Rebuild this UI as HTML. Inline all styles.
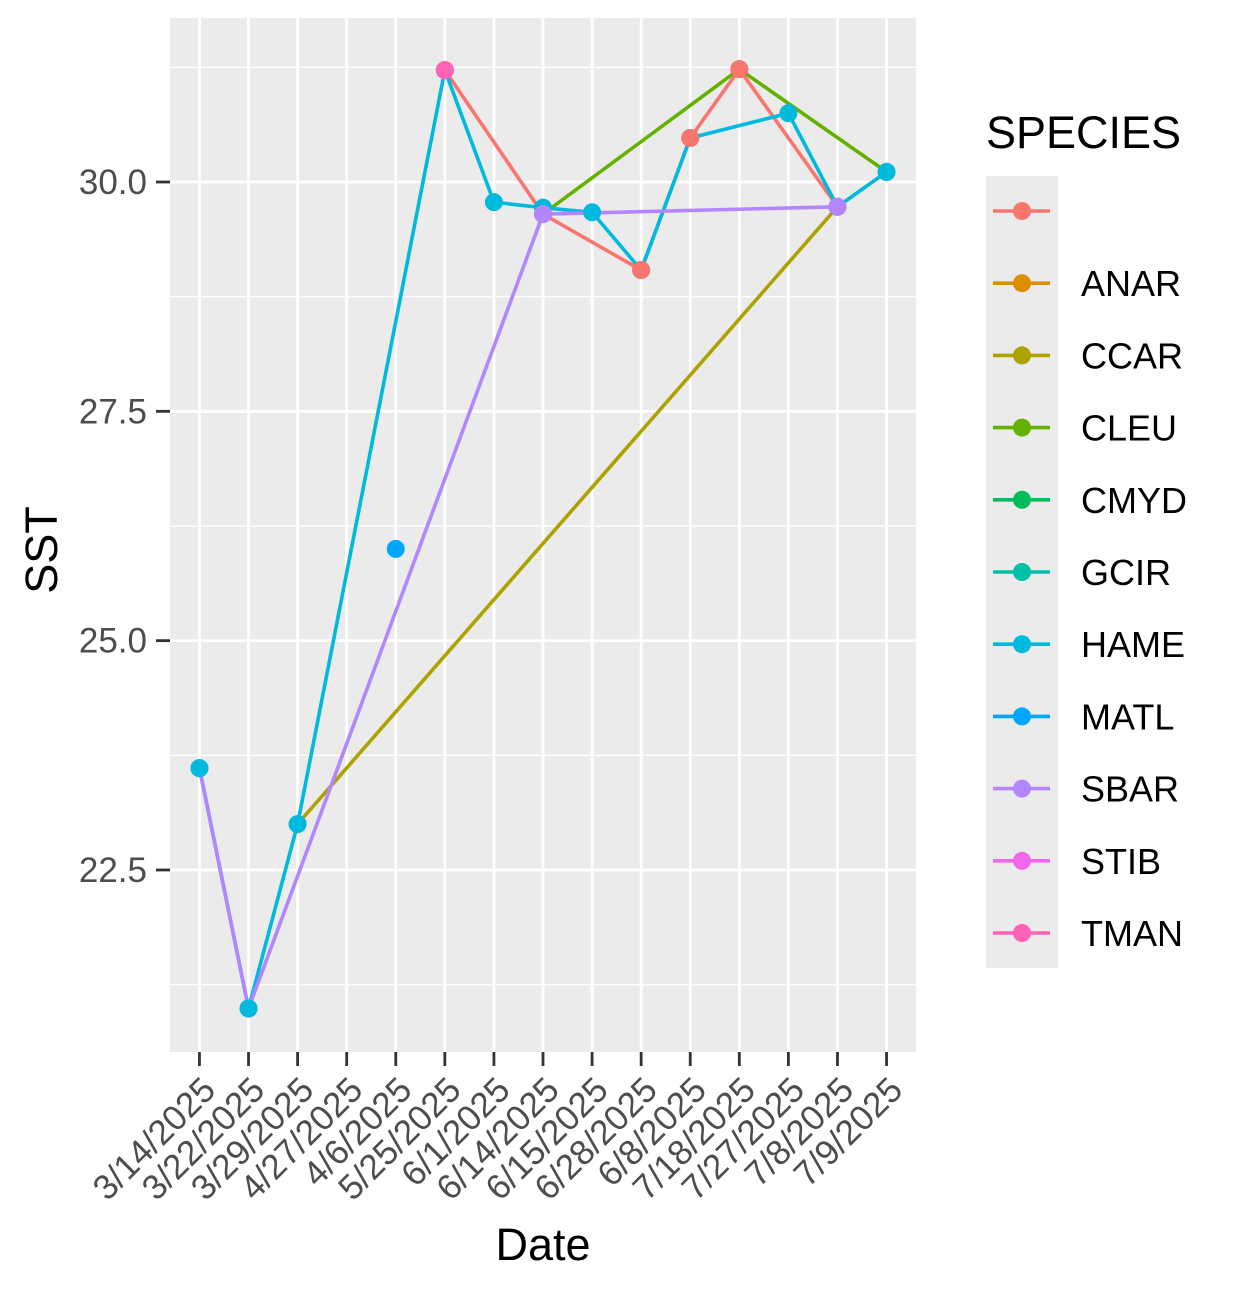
<!DOCTYPE html>
<html><head><meta charset="utf-8"><style>
body{margin:0;background:#fff;}
svg{display:block;font-family:"Liberation Sans",sans-serif;}
</style></head><body>
<svg id="chart" width="1234" height="1293" viewBox="0 0 1234 1293" xmlns="http://www.w3.org/2000/svg">
<rect x="170" y="18" width="746" height="1034" fill="#ebebeb"/>
<g id="grid"></g>
<g id="lines"></g>
<g id="points"></g>
<g id="axes"></g>
<text transform="translate(57,550) rotate(-90)" text-anchor="middle" font-size="45">SST</text>
<text x="543" y="1260" text-anchor="middle" font-size="45">Date</text>
<g id="legend"></g>
</svg>
<script>
const categories=["3/14/2025","3/22/2025","3/29/2025","4/27/2025","4/6/2025","5/25/2025","6/1/2025","6/14/2025","6/15/2025","6/28/2025","6/8/2025","7/18/2025","7/27/2025","7/8/2025","7/9/2025"];
const yTicks=[22.5,25.0,27.5,30.0];
const yTickLabels=["22.5","25.0","27.5","30.0"];
const species=["","ANAR","CCAR","CLEU","CMYD","GCIR","HAME","MATL","SBAR","STIB","TMAN"];
const colors=["#F8766D","#DB8E00","#AEA200","#64B200","#00BD5C","#00C1A7","#00BADE","#00A6FF","#B385FF","#EF67EB","#FF63B6"];
const blankDates=["5/25/2025","6/14/2025","6/28/2025","6/8/2025","7/18/2025","7/8/2025"];
const blankSST=[31.22,29.65,29.04,30.48,31.23,29.73];
const ccarDates=["3/29/2025","7/8/2025"];
const ccarSST=[23.0,29.73];
const cleuDates=["6/14/2025","7/18/2025","7/9/2025"];
const cleuSST=[29.65,31.23,30.11];
const hameDates=["3/14/2025","3/22/2025","3/29/2025","5/25/2025","6/1/2025","6/14/2025","6/15/2025","6/28/2025","6/8/2025","7/27/2025","7/8/2025","7/9/2025"];
const hameSST=[23.61,20.99,23.0,31.22,29.78,29.72,29.67,29.04,30.48,30.75,29.73,30.11];
const matlDates=["4/6/2025"];
const matlSST=[26.0];
const sbarDates=["3/14/2025","3/22/2025","6/14/2025","7/8/2025"];
const sbarSST=[23.61,20.99,29.65,29.73];
const tmanDates=["5/25/2025"];
const tmanSST=[31.22];

const NS="http://www.w3.org/2000/svg";
const X0=170,X1=916,Y0=18,Y1=1052;
function xs(c){const i=categories.indexOf(c);return X0+(i+0.6)*(X1-X0)/(categories.length+0.2);}
function ys(v){return 182+(30-v)*91.73;}
function mk(tag,attrs,parent){const e=document.createElementNS(NS,tag);for(const k in attrs)e.setAttribute(k,attrs[k]);parent.appendChild(e);return e;}
const grid=document.getElementById('grid'),axes=document.getElementById('axes');
for(let i=0;i<=yTicks.length;i++){const v=(i==0?yTicks[0]-1.25:yTicks[i-1]+1.25);const y=ys(v);
 if(y<Y0||y>Y1)continue;
 const l=mk('line',{x1:X0,x2:X1,y1:y,y2:y,stroke:'#fff','stroke-width':1.4},grid);
 }
yTicks.forEach((v,i)=>{const y=ys(v);
 const l=mk('line',{x1:X0,x2:X1,y1:y,y2:y,stroke:'#fff','stroke-width':2.8},grid);
 
 const t=mk('line',{x1:X0-14,x2:X0,y1:y,y2:y,stroke:'#333','stroke-width':2.8},axes);
 
 const tx=mk('text',{x:X0-23,y:y+12,'text-anchor':'end','font-size':35,fill:'#4d4d4d'},axes);
 tx.textContent=yTickLabels[i];
 });
categories.forEach(c=>{const x=xs(c);
 const l=mk('line',{x1:x,x2:x,y1:Y0,y2:Y1,stroke:'#fff','stroke-width':2.8},grid);
 
 const t=mk('line',{x1:x,x2:x,y1:Y1,y2:Y1+14,stroke:'#333','stroke-width':2.8},axes);
 
 const tx=mk('text',{transform:`translate(${x+18},${Y1+40}) rotate(-45)`,'text-anchor':'end','font-size':35,fill:'#4d4d4d'},axes);
 tx.textContent=c;
 });
const series=[
 {n:'',d:blankDates,v:blankSST,c:colors[0]},
 {n:'CCAR',d:ccarDates,v:ccarSST,c:colors[2]},
 {n:'CLEU',d:cleuDates,v:cleuSST,c:colors[3]},
 {n:'HAME',d:hameDates,v:hameSST,c:colors[6]},
 {n:'MATL',d:matlDates,v:matlSST,c:colors[7]},
 {n:'SBAR',d:sbarDates,v:sbarSST,c:colors[8]},
 {n:'TMAN',d:tmanDates,v:tmanSST,c:colors[10]}];
const lines=document.getElementById('lines'),pts=document.getElementById('points');
series.forEach(s=>{if(s.d.length>1){
 const p=mk('polyline',{points:s.d.map((d,i)=>xs(d)+','+ys(s.v[i])).join(' '),fill:'none',stroke:s.c,'stroke-width':3.6,'stroke-linejoin':'round'},lines);
 }});
const order=[1,2,3,0,5,4,6];
order.forEach(k=>{const s=series[k];s.d.forEach((d,i)=>{
 const c=mk('circle',{cx:xs(d),cy:ys(s.v[i]),r:9,fill:s.c},pts);
 });});
hameDates.slice(0,2).forEach((d,i)=>{const c=mk('circle',{cx:xs(d),cy:ys(hameSST[i]),r:9,fill:colors[6]},pts);
 });
const lg=document.getElementById('legend');
const tt=mk('text',{x:986,y:148,'font-size':45},lg);tt.textContent='SPECIES';

const bg=mk('rect',{x:986,y:176,width:72,height:792,fill:'#ebebeb'},lg);

species.forEach((s,i)=>{const y=211+i*72.2;
 const g=mk('g',{},lg);
 mk('line',{x1:993,x2:1050,y1:y,y2:y,stroke:colors[i],'stroke-width':3.6},g);
 mk('circle',{cx:1022,cy:y,r:9,fill:colors[i]},g);
 const t=mk('text',{x:1081,y:y+13,'font-size':36},g);t.textContent=s;});
</script>
</body></html>
